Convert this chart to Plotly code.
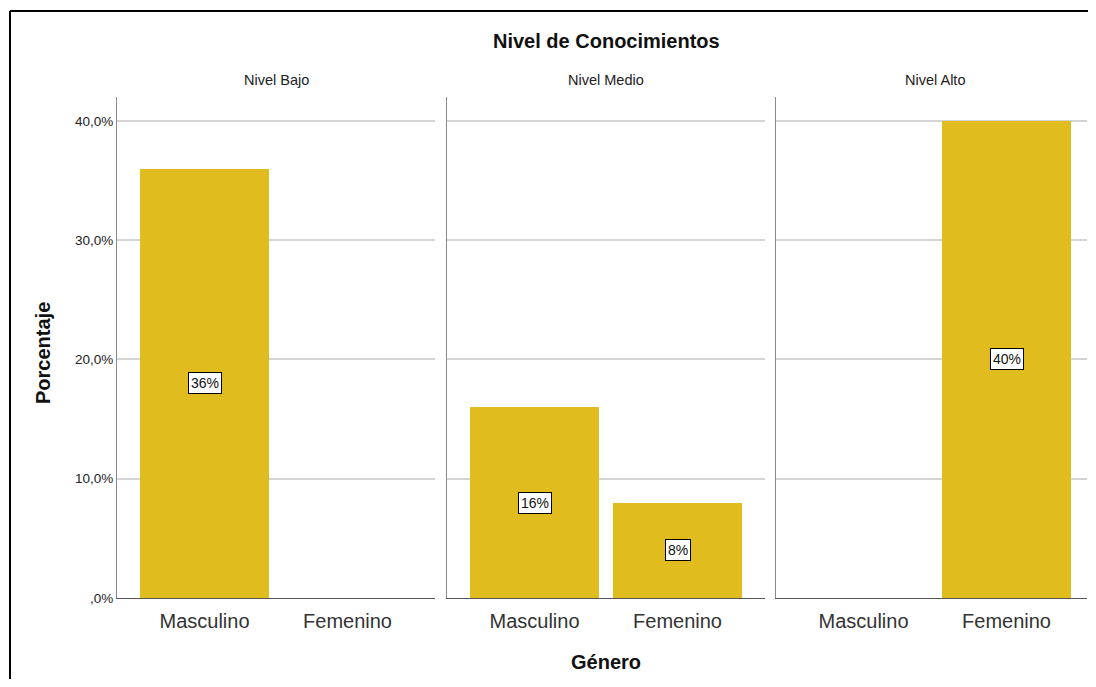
import plotly.graph_objects as go

# ---- data ----
categories = ["Masculino", "Femenino"]
panels = ["Nivel Bajo", "Nivel Medio", "Nivel Alto"]
nivel_bajo = [36, 0]
nivel_medio = [16, 8]
nivel_alto = [0, 40]
y_tickvals = [0, 10, 20, 30, 40]
y_ticktext = [",0%", "10,0%", "20,0%", "30,0%", "40,0%"]

series = [nivel_bajo, nivel_medio, nivel_alto]
BAR = "#E0BC1F"
FONT = "Liberation Sans, Arial, sans-serif"

OFF = 8  # page body margin
W, H = 1096 - 2 * OFF, 687 - 2 * OFF
PLOT_RIGHT = 1087          # last visible pixel column
L = 117 - OFF
T = 97 - OFF
R = W - (PLOT_RIGHT - OFF)
B = H - (598 - OFF)
pw = W - L - R
ph = H - T - B

def px_x(p):
    return (p - OFF - L) / pw

def px_y(p):
    return (H - B - (p - OFF)) / ph

domains = [[0, px_x(435)], [px_x(447), px_x(765)], [px_x(776), 1.0]]
UNIT = 143.0  # px per category step
ranges = []
for d in domains:
    width_px = (d[1] - d[0]) * pw
    ranges.append([-0.612, -0.612 + width_px / UNIT])

fig = go.Figure()
annotations = []
for i, (name, vals) in enumerate(zip(panels, series)):
    suffix = "" if i == 0 else str(i + 1)
    fig.add_trace(go.Bar(
        x=categories, y=vals, width=0.9,
        marker=dict(color=BAR, line=dict(width=0)),
        xaxis="x" + suffix, yaxis="y" + suffix, showlegend=False,
        hoverinfo="x+y",
    ))
    fig.update_layout(**{
        "xaxis" + suffix: dict(
            domain=domains[i], range=ranges[i], anchor="y" + suffix,
            showline=True, linecolor="#555555", linewidth=1,
            showgrid=False, ticks="", ticklabelstandoff=5,
            tickfont=dict(family=FONT, size=20, color="#333333"),
            fixedrange=True,
        ),
        "yaxis" + suffix: dict(
            range=[0, 42], anchor="x" + suffix,
            showline=True, linecolor="#8a8a8a", linewidth=1,
            showgrid=True, gridcolor="#d4d4d4", gridwidth=2,
            zeroline=False,
            tickvals=y_tickvals, ticktext=y_ticktext,
            showticklabels=(i == 0), ticks="",
            tickfont=dict(family=FONT, size=13.5, color="#222222"),
            fixedrange=True,
        ),
    })
    left_px = domains[i][0] * pw + L + OFF
    annotations.append(dict(
        text=name, xref="paper", yref="paper",
        x=px_x(left_px + 159), y=px_y(80),
        showarrow=False, xanchor="center", yanchor="middle",
        font=dict(family=FONT, size=14.5, color="#222222"),
    ))
    for c, v in zip(categories, vals):
        if v > 0:
            annotations.append(dict(
                text=f"{v}%", x=c, y=v / 2,
                xref="x" + suffix, yref="y" + suffix,
                showarrow=False, xanchor="center", yanchor="middle",
                bgcolor="white", bordercolor="black", borderwidth=1, borderpad=2,
                font=dict(family=FONT, size=14, color="#111111"),
            ))

annotations += [
    dict(text="<b>Nivel de Conocimientos</b>", xref="paper", yref="paper",
         x=px_x(606), y=px_y(41), showarrow=False,
         xanchor="center", yanchor="middle",
         font=dict(family=FONT, size=20, color="#111111")),
    dict(text="<b>Género</b>", xref="paper", yref="paper",
         x=px_x(606), y=px_y(662), showarrow=False,
         xanchor="center", yanchor="middle",
         font=dict(family=FONT, size=20, color="#111111")),
    dict(text="<b>Porcentaje</b>", xref="paper", yref="paper",
         x=px_x(43), y=px_y(353), showarrow=False, textangle=-90,
         xanchor="center", yanchor="middle",
         font=dict(family=FONT, size=20, color="#111111")),
]

# outer frame: only the left and top edges are inside the visible page
frame = dict(color="black", width=2)
shapes = [
    dict(type="line", xref="paper", yref="paper",
         x0=px_x(10), y0=px_y(11), x1=px_x(10), y1=px_y(720), line=frame, layer="above"),
    dict(type="line", xref="paper", yref="paper",
         x0=px_x(10), y0=px_y(11), x1=px_x(1120), y1=px_y(11), line=frame, layer="above"),
]

fig.update_layout(
    width=W, height=H,
    margin=dict(l=L, r=R, t=T, b=B, pad=0),
    paper_bgcolor="white", plot_bgcolor="white",
    annotations=annotations,
    bargap=0,
    shapes=shapes,
)

fig.write_html("out.html", config={"displayModeBar": False})
